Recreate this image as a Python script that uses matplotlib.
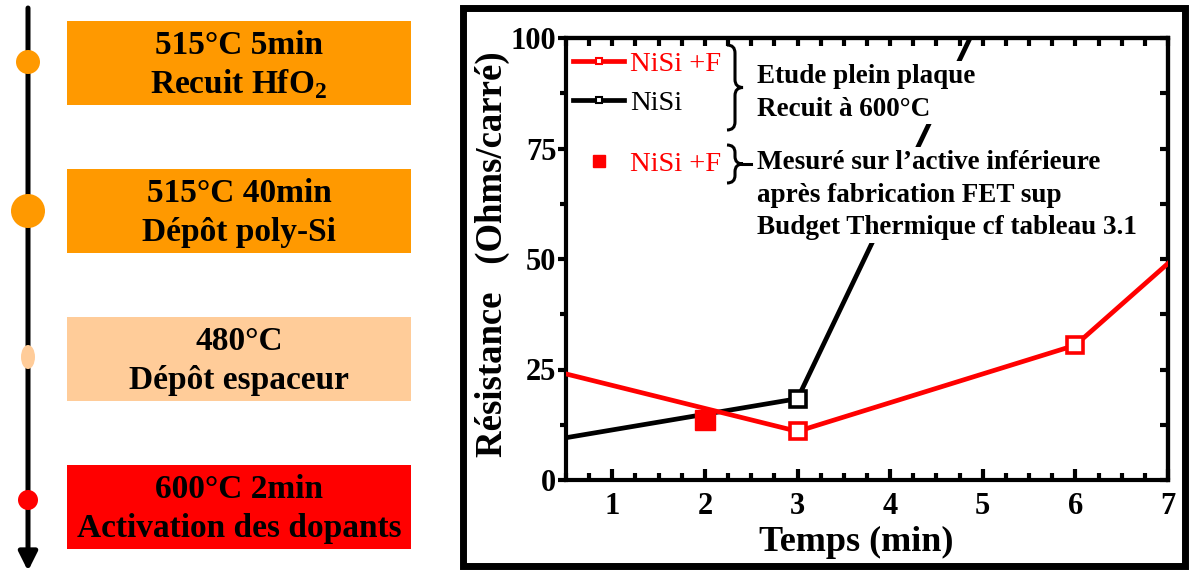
import matplotlib
matplotlib.use("Agg")
import matplotlib.pyplot as plt
from matplotlib.patches import Rectangle, Ellipse, PathPatch
from matplotlib.path import Path
from matplotlib.lines import Line2D
from matplotlib.ticker import MultipleLocator

plt.rcParams['font.family'] = ['Liberation Serif', 'DejaVu Serif']
plt.rcParams['mathtext.fontset'] = 'custom'
plt.rcParams['mathtext.rm'] = 'Liberation Serif'
plt.rcParams['mathtext.bf'] = 'Liberation Serif:bold'

# --- data ---
# process steps (left panel)
step_line1 = ["515°C 5min", "515°C 40min", "480°C", "600°C 2min"]
step_line2 = [r"Recuit HfO$_{\mathbf{2}}$", "Dépôt poly-Si", "Dépôt espaceur",
              "Activation des dopants"]
step_colors = ["#FF9900", "#FF9900", "#FFCC99", "#FF0000"]

# sheet resistance vs anneal time at 600°C
temps_nisi_f = [0, 3, 6, 9]
res_nisi_f = [26.6, 11.0, 30.5, 86.0]
temps_nisi = [0, 3, 5]
res_nisi = [7.8, 18.4, 106.0]
temps_fet = [2]
res_fet = [13.6]

fig = plt.figure(figsize=(11.89, 5.72), dpi=100)

# main plot
ax = fig.add_axes([566 / 1189, 92 / 572, 602 / 1189, 442 / 572])
ax.plot(temps_nisi_f, res_nisi_f, color="red", lw=3.4, marker="s", ms=11,
        mew=2.6, mfc="white", mec="red", zorder=3)
ax.plot(temps_nisi, res_nisi, color="black", lw=3.4, marker="s", ms=11,
        mew=2.6, mfc="white", mec="black", zorder=2)
ax.plot(temps_fet, res_fet, ls="none", marker="s", ms=14, color="red", zorder=4)

ax.set_xlim(0.5, 7)
ax.set_ylim(0, 100)
ax.xaxis.set_major_locator(MultipleLocator(1))
ax.xaxis.set_minor_locator(MultipleLocator(0.25))
ax.yaxis.set_major_locator(MultipleLocator(25))
ax.yaxis.set_minor_locator(MultipleLocator(12.5))
for s in ax.spines.values():
    s.set_linewidth(3)
ax.tick_params(axis="x", which="major", direction="in", length=8, width=3,
               labelsize=22, pad=9)
ax.tick_params(axis="x", which="minor", direction="in", length=5, width=3)
ax.tick_params(axis="y", which="major", direction="out", length=6, width=3,
               labelsize=22, pad=1)
ax.tick_params(axis="y", which="minor", direction="out", length=4, width=3)
for lab in ax.get_xticklabels() + ax.get_yticklabels():
    lab.set_fontweight("bold")

top = ax.secondary_xaxis("top")
top.set_xticks([])
top.xaxis.set_minor_locator(MultipleLocator(0.25))
top.tick_params(which="minor", direction="in", length=6, width=3)
top.spines["top"].set_linewidth(3)
right = ax.secondary_yaxis("right")
right.set_yticks([])
right.yaxis.set_minor_locator(MultipleLocator(12.5))
right.tick_params(which="minor", direction="in", length=6, width=3)
right.spines["right"].set_linewidth(3)

ax.set_xlabel("Temps (min)", fontsize=26, fontweight="bold")
ax.xaxis.set_label_coords(0.482, -0.105)
ax.set_ylabel("Résistance   (Ohms/carré)", fontsize=26.5, fontweight="bold")
ax.yaxis.set_label_coords(-0.093, 0.51)

h1 = [Line2D([], [], color="red", lw=3.4, marker="s", ms=5, mew=1.5, mfc="white"),
      Line2D([], [], color="black", lw=3.4, marker="s", ms=5, mew=1.5, mfc="white")]
leg1 = ax.legend(h1, ["NiSi +F", "NiSi"], loc="upper left",
                 bbox_to_anchor=(0.012, 0.97), frameon=False, fontsize=20.5,
                 handlelength=1.8, handletextpad=0.2, labelspacing=0.45,
                 borderpad=0, borderaxespad=0)
leg1.get_texts()[0].set_color("red")
ax.add_artist(leg1)
h2 = [Line2D([], [], ls="none", color="red", marker="s", ms=8)]
leg2 = ax.legend(h2, ["NiSi +F"], loc="upper left", bbox_to_anchor=(0.012, 0.745),
                 frameon=False, fontsize=20.5, handlelength=1.8, handletextpad=0.2,
                 borderpad=0, borderaxespad=0)
leg2.get_texts()[0].set_color("red")

# overlay in pixel coordinates: left panel, frame, braces, notes
ov = fig.add_axes([0, 0, 1, 1], zorder=10)
ov.set_xlim(0, 1189)
ov.set_ylim(572, 0)
ov.axis("off")
ov.patch.set_visible(False)

# timeline arrow
ov.annotate("", xy=(28, 571), xytext=(28, 8),
            arrowprops=dict(arrowstyle="-|>", lw=3.6, color="black",
                            mutation_scale=28, shrinkA=0, shrinkB=0), zorder=2)
box_y = [63, 211, 359, 507]
dot_y = [62, 211, 357, 500]
dot_w = [24, 34, 14, 20]
dot_h = [24, 34, 24, 20]
for i in range(4):
    ov.add_patch(Rectangle((67, box_y[i] - 42), 344, 84, color=step_colors[i], lw=0))
    ov.add_patch(Ellipse((28, dot_y[i]), dot_w[i], dot_h[i], color=step_colors[i],
                         lw=0, zorder=5))
    ov.text(239, box_y[i] - 18, step_line1[i], ha="center", va="center",
            fontsize=24, fontweight="bold")
    ov.text(239, box_y[i] + 21, step_line2[i], ha="center", va="center",
            fontsize=24, fontweight="bold")

# frame around the plot
ov.add_patch(Rectangle((463, 8), 722, 558, fill=False, lw=5, color="black"))


def brace(x0, y0, y1, w, tail=0):
    ym = (y0 + y1) / 2
    xm = x0 + w / 2
    r = min(8, (y1 - y0) / 5)
    verts = [(x0, y0), (xm, y0), (xm, y0 + r), (xm, ym - r), (xm, ym), (x0 + w, ym),
             (xm, ym), (xm, ym + r), (xm, y1 - r), (xm, y1), (x0, y1)]
    codes = [Path.MOVETO, Path.CURVE3, Path.CURVE3, Path.LINETO, Path.CURVE3,
             Path.CURVE3, Path.CURVE3, Path.CURVE3, Path.LINETO, Path.CURVE3,
             Path.CURVE3]
    ov.add_patch(PathPatch(Path(verts, codes), fill=False, lw=2.2, color="black"))
    if tail:
        ov.plot([x0 + w, x0 + w + tail], [ym, ym], color="black", lw=2.2)


brace(727, 45, 130, 16)
brace(727, 145, 183, 16, tail=8)

note_bbox = dict(facecolor="white", edgecolor="none", pad=2)
ov.text(757, 64, "Etude plein plaque\nRecuit à 600°C", ha="left", va="top",
        fontsize=19.5, fontweight="bold", linespacing=1.4, bbox=note_bbox)
ov.text(757, 150, "Mesuré sur l’active inférieure\naprès fabrication FET sup\n"
        "Budget Thermique cf tableau 3.1", ha="left", va="top",
        fontsize=19.5, fontweight="bold", linespacing=1.4, bbox=note_bbox)

fig.savefig("out.png", dpi=100)
